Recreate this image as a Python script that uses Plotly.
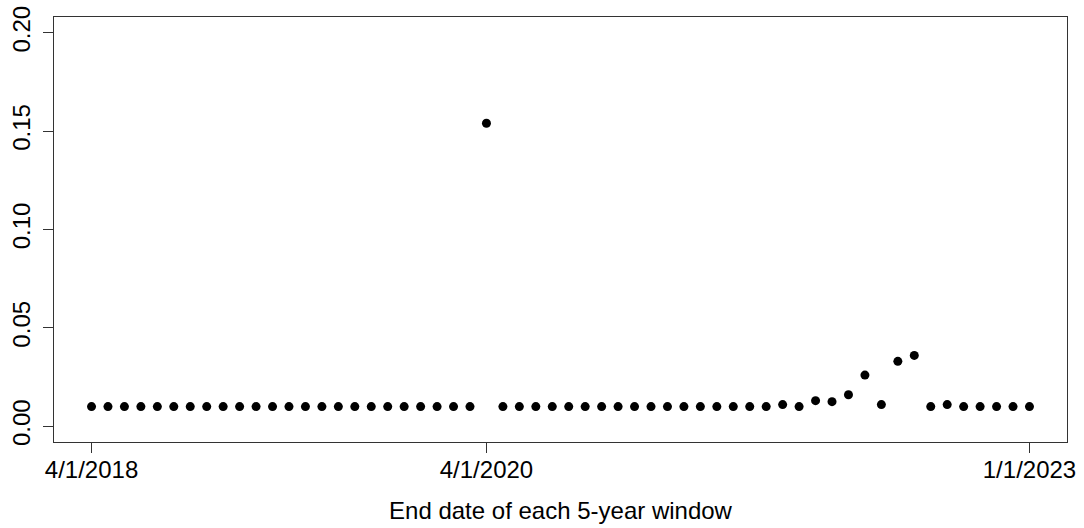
import plotly.graph_objects as go

# End dates of each rolling 5-year window (monthly), 4/1/2018 through 1/1/2023
end_dates = []
for year in range(2018, 2024):
    for month in range(1, 13):
        if (year, month) < (2018, 4) or (year, month) > (2023, 1):
            continue
        end_dates.append(f"{month}/1/{year}")

# Estimated value for each window
values = [
    0.010, 0.010, 0.010, 0.010, 0.010, 0.010, 0.010, 0.010, 0.010, 0.010,
    0.010, 0.010, 0.010, 0.010, 0.010, 0.010, 0.010, 0.010, 0.010, 0.010,
    0.010, 0.010, 0.010, 0.010, 0.154, 0.010, 0.010, 0.010, 0.010, 0.010,
    0.010, 0.010, 0.010, 0.010, 0.010, 0.010, 0.010, 0.010, 0.010, 0.010,
    0.010, 0.010, 0.011, 0.010, 0.013, 0.0125, 0.016, 0.026, 0.011, 0.033,
    0.036, 0.010, 0.011, 0.010, 0.010, 0.010, 0.010, 0.010,
]

x_tick_labels = ["4/1/2018", "4/1/2020", "1/1/2023"]
y_tick_values = [0.00, 0.05, 0.10, 0.15, 0.20]

idx = list(range(len(end_dates)))
x_tick_pos = [end_dates.index(lbl) for lbl in x_tick_labels]

font_family = "Liberation Sans, Arial, Helvetica, sans-serif"

fig = go.Figure(
    go.Scatter(
        x=idx,
        y=values,
        mode="markers",
        marker=dict(color="black", size=9),
        text=end_dates,
        hovertemplate="%{text}: %{y}<extra></extra>",
    )
)

n = len(idx) - 1
fig.update_layout(
    width=1084,
    height=528,
    margin=dict(l=54, r=17, t=17, b=86),
    plot_bgcolor="white",
    paper_bgcolor="white",
    showlegend=False,
    font=dict(family=font_family, size=24, color="black"),
    xaxis=dict(
        range=[-0.04 * n, n * 1.04],
        tickmode="array",
        tickvals=x_tick_pos,
        ticktext=x_tick_labels,
        ticks="outside",
        ticklen=10,
        tickcolor="#333333",
        ticklabelstandoff=-4,
        showline=True,
        linecolor="#333333",
        linewidth=1,
        mirror=True,
        showgrid=False,
        zeroline=False,
        automargin=False,
        title=dict(text="End date of each 5-year window", standoff=20,
                   font=dict(size=24)),
        tickfont=dict(size=24),
    ),
    yaxis=dict(
        range=[-0.008, 0.208],
        tickmode="array",
        tickvals=y_tick_values,
        ticktext=[f"{v:.2f}" for v in y_tick_values],
        tickangle=-90,
        ticks="outside",
        ticklen=10,
        tickcolor="#333333",
        ticklabelstandoff=3,
        showline=True,
        linecolor="#333333",
        linewidth=1,
        mirror=True,
        showgrid=False,
        zeroline=False,
        automargin=False,
        tickfont=dict(size=24),
    ),
)

fig.write_html("out.html")
